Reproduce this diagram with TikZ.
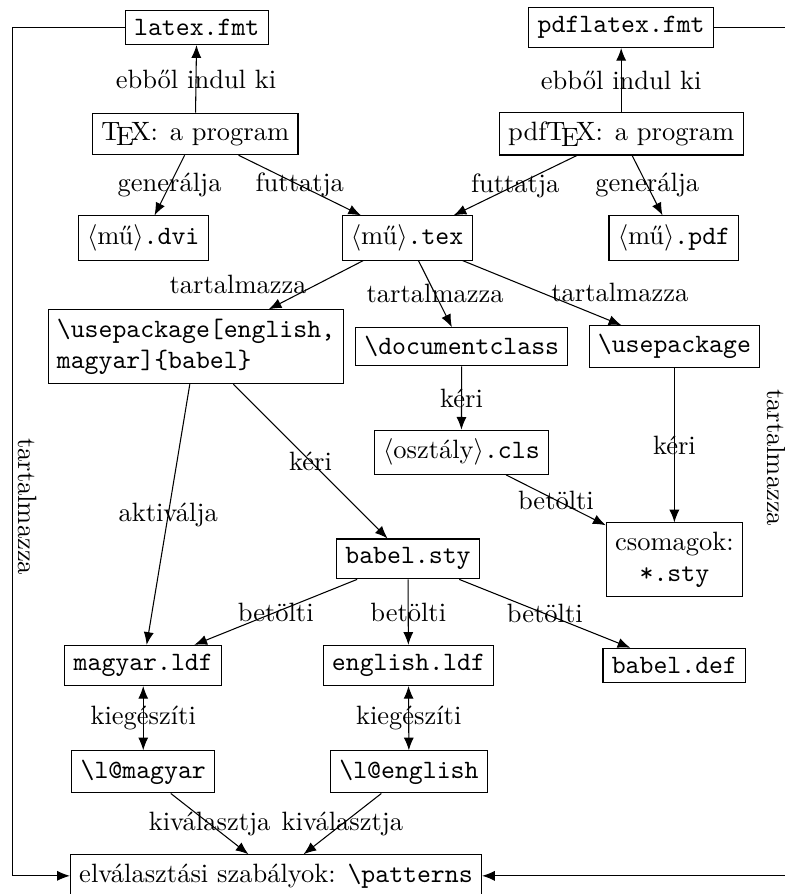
\documentclass[tikz,border=0pt]{standalone}
\usepackage{tikz}
\usetikzlibrary{arrows.meta}

\begin{document}
\begin{tikzpicture}[>={Latex[length=4.8pt,width=3.8pt]}]
\tikzstyle{box}=[draw,rectangle]
\tikzstyle{lbl}=[draw=none,fill=none,midway]
\useasboundingbox (0,0) rectangle (10.413,-11.859);
\foreach \name/\point/\txt in {
	latexfmt/{2.61,-0.365}/{\texttt{latex.fmt}},
	pdflatexfmt/{8.24,-0.365}/{\texttt{pdflatex.fmt}},
	texprog/{2.59,-1.777}/{\TeX: a program},
	pdftexprog/{8.24,-1.777}/{pdf\TeX: a program},
	dvi/{1.9,-3.157}/{$\langle$mű$\rangle$\texttt{.dvi}},
	mutex/{5.4,-3.157}/{$\langle$mű$\rangle$\texttt{.tex}},
	pdf/{8.94,-3.157}/{$\langle$mű$\rangle$\texttt{.pdf}},
	docclass/{6.125,-4.6}/{\texttt{\textbackslash documentclass}},
	usepkg/{8.946,-4.6}/{\texttt{\textbackslash usepackage}},
	cls/{6.12,-6.0}/{$\langle$osztály$\rangle$\texttt{.cls}},
	babelsty/{5.412,-7.414}/{\texttt{babel.sty}},
	magyarldf/{1.9,-8.827}/{\texttt{magyar.ldf}},
	englishldf/{5.418,-8.827}/{\texttt{english.ldf}},
	babeldef/{8.946,-8.827}/{\texttt{babel.def}},
	lmagyar/{1.9,-10.239}/{\texttt{\textbackslash l@magyar}},
	lenglish/{5.425,-10.239}/{\texttt{\textbackslash l@english}},
	patterns/{3.661,-11.618}/{elválasztási szabályok: \texttt{\textbackslash patterns}}}
	\node[box] (\name) at (\point) {\txt};
\node[box,align=left] (babel) at (2.6,-4.6) {\texttt{\textbackslash usepackage[english,}\\\texttt{magyar]\{babel\}}};
\node[box,align=center] (csomagok) at (8.946,-7.427) {csomagok:\\\texttt{*.sty}};
\coordinate (leftside) at (0.16,-6.72);
\coordinate (rightside) at (10.45,-6.07);
% format files
\draw[->] (texprog) -- (latexfmt) node[lbl] {ebből indul ki};
\draw[->] (pdftexprog) -- (pdflatexfmt) node[lbl] {ebből indul ki};
\draw[->] (texprog) -- (dvi) node[lbl] {generálja};
\draw[->] (texprog) -- (mutex) node[lbl] {futtatja};
\draw[->] (pdftexprog) -- (mutex) node[lbl] {futtatja};
\draw[->] (pdftexprog) -- (pdf) node[lbl] {generálja};
% the source
\draw[->] (mutex) -- (babel) node[lbl,left] {tartalmazza};
\draw[->] (mutex) -- (docclass) node[lbl] {tartalmazza};
\draw[->] (mutex) -- (usepkg) node[lbl,right] {tartalmazza};
\draw[->] (docclass) -- (cls) node[lbl] {kéri};
\draw[->] (usepkg) -- (csomagok) node[lbl] {kéri};
\draw[->] (cls) -- (csomagok) node[lbl] {betölti};
% babel
\draw[->] (babel) -- (babelsty) node[lbl] {kéri};
\draw[->] (babel) -- (magyarldf) node[lbl] {aktiválja};
\draw[->] (babelsty) -- (magyarldf) node[lbl] {betölti};
\draw[->] (babelsty) -- (englishldf) node[lbl] {betölti};
\draw[->] (babelsty) -- (babeldef) node[lbl] {betölti};
\draw[<->] (magyarldf) -- (lmagyar) node[lbl] {kiegészíti};
\draw[<->] (englishldf) -- (lenglish) node[lbl] {kiegészíti};
\draw[->] (lmagyar) -- (patterns) node[lbl] {kiválasztja};
\draw[->] (lenglish) -- (patterns) node[lbl] {kiválasztja};
% hyphenation patterns from the format
\draw[->] (latexfmt) -| (leftside) node[rotate=-90,anchor=south,inner sep=2pt] {tartalmazza} |- (patterns);
\draw[->] (pdflatexfmt) -| (rightside) node[rotate=-90,anchor=north,inner sep=0.5pt] {tartalmazza} |- (patterns);
\end{tikzpicture}
\end{document}
